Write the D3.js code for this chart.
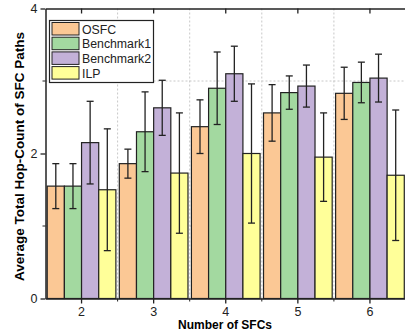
<!DOCTYPE html>
<html>
<head>
<meta charset="utf-8">
<script src="https://cdn.jsdelivr.net/npm/d3@7"></script>
<style>
  body { margin: 0; background: #fff; }
  text { font-family: Arial, "Liberation Sans", sans-serif; }
</style>
</head>
<body>
<div id="chart"></div>
<script>
const categories = ["2", "3", "4", "5", "6"];
const seriesNames = ["OSFC", "Benchmark1", "Benchmark2", "ILP"];
const seriesColors = ["#fbc895", "#a3d9a0", "#c3b1d8", "#ffff99"];

const osfc = [1.55, 1.86, 2.37, 2.56, 2.83];
const osfcErr = [0.31, 0.20, 0.37, 0.39, 0.36];
const bench1 = [1.55, 2.30, 2.90, 2.84, 2.98];
const bench1Err = [0.31, 0.55, 0.50, 0.23, 0.28];
const bench2 = [2.15, 2.63, 3.10, 2.93, 3.04];
const bench2Err = [0.57, 0.38, 0.38, 0.29, 0.33];
const ilp = [1.50, 1.73, 2.00, 1.95, 1.70];
const ilpErr = [0.84, 0.83, 0.96, 0.61, 0.90];

const yTicks = [0, 2, 4];
const yMinor = [1, 3];

const values = [osfc, bench1, bench2, ilp];
const errors = [osfcErr, bench1Err, bench2Err, ilpErr];

const W = 405, H = 335;
const mLeft = 45.5, mRight = 406, mTop = 8.5, mBottom = 298.5;

const svg = d3.select("#chart").append("svg")
  .attr("width", W).attr("height", H);

const x = d3.scaleBand().domain(categories).range([mLeft, mRight]).padding(0);
const inner = d3.scaleBand().domain(seriesNames)
  .range([0, x.bandwidth()]).paddingOuter(0.1);
const y = d3.scaleLinear().domain([0, 4]).range([mBottom, mTop]);

// dotted grid at minor positions
const minorX = categories.slice(1).map(c => x(c));
svg.append("g").selectAll("line").data(minorX).join("line")
  .attr("x1", d => d).attr("x2", d => d)
  .attr("y1", mTop).attr("y2", mBottom)
  .attr("stroke", "#c8c8c8").attr("stroke-dasharray", "2,2");
svg.append("g").selectAll("line").data(yMinor).join("line")
  .attr("x1", mLeft).attr("x2", mRight)
  .attr("y1", d => y(d)).attr("y2", d => y(d))
  .attr("stroke", "#c8c8c8").attr("stroke-dasharray", "2,2");

// bars
const rows = [];
seriesNames.forEach((s, si) => {
  categories.forEach((c, ci) => {
    rows.push({ s, si, c, v: values[si][ci], e: errors[si][ci] });
  });
});

svg.append("g").selectAll("rect").data(rows).join("rect")
  .attr("x", d => x(d.c) + inner(d.s))
  .attr("y", d => y(d.v))
  .attr("width", inner.bandwidth())
  .attr("height", d => y(0) - y(d.v))
  .attr("fill", d => seriesColors[d.si])
  .attr("stroke", "#222")
  .attr("stroke-width", 1.2);

// error bars
const eg = svg.append("g").attr("stroke", "#222").attr("stroke-width", 1.3);
rows.forEach(d => {
  const cx = x(d.c) + inner(d.s) + inner.bandwidth() / 2;
  eg.append("line").attr("x1", cx).attr("x2", cx)
    .attr("y1", y(d.v + d.e)).attr("y2", y(d.v - d.e));
  [d.v + d.e, d.v - d.e].forEach(v => {
    eg.append("line").attr("x1", cx - 3.5).attr("x2", cx + 3.5)
      .attr("y1", y(v)).attr("y2", y(v));
  });
});

// axes
const xAxis = svg.append("g").attr("transform", `translate(0,${mBottom})`)
  .call(d3.axisBottom(x).tickSizeInner(5).tickSizeOuter(0).tickPadding(4));
xAxis.select(".domain").attr("stroke", "#222").attr("stroke-width", 1.5);
xAxis.selectAll("text").attr("font-size", 12.5).attr("fill", "#222");
xAxis.selectAll(".tick line").attr("stroke", "#222").attr("stroke-width", 1.3);
svg.append("g").selectAll("line").data(minorX).join("line")
  .attr("x1", d => d).attr("x2", d => d)
  .attr("y1", mBottom).attr("y2", mBottom + 3)
  .attr("stroke", "#222");

const xTop = svg.append("g").attr("transform", `translate(0,${mTop})`)
  .call(d3.axisTop(x).tickSizeInner(-5).tickSizeOuter(0).tickFormat(""));
xTop.select(".domain").attr("stroke", "#222").attr("stroke-width", 1.5);
xTop.selectAll(".tick line").attr("stroke", "#222").attr("stroke-width", 1.3);

const yAxis = svg.append("g").attr("transform", `translate(${mLeft},0)`)
  .call(d3.axisLeft(y).tickValues(yTicks).tickFormat(d3.format("d"))
    .tickSizeInner(5).tickSizeOuter(0).tickPadding(3));
yAxis.select(".domain").attr("stroke", "#222").attr("stroke-width", 1.5);
yAxis.selectAll("text").attr("font-size", 12.5).attr("fill", "#222");
yAxis.selectAll(".tick line").attr("stroke", "#222").attr("stroke-width", 1.3);
svg.append("g").selectAll("line").data(yMinor).join("line")
  .attr("x1", mLeft - 3).attr("x2", mLeft)
  .attr("y1", d => y(d)).attr("y2", d => y(d))
  .attr("stroke", "#222");

// axis titles
svg.append("text")
  .attr("x", 225).attr("y", 329)
  .attr("text-anchor", "middle")
  .attr("font-size", 12).attr("font-weight", "bold")
  .text("Number of SFCs");
svg.append("text")
  .attr("transform", "translate(24,156.5) rotate(-90)")
  .attr("text-anchor", "middle")
  .attr("font-size", 13.5).attr("font-weight", "bold")
  .text("Average Total Hop-Count of SFC Paths");

// legend
const lg = svg.append("g").attr("transform", "translate(49.5,20.5)");
lg.append("rect").attr("width", 104).attr("height", 62)
  .attr("fill", "#fff").attr("stroke", "#222").attr("stroke-width", 1.2);
seriesNames.forEach((s, i) => {
  lg.append("rect").attr("x", 2.5).attr("y", 2 + i * 14.7)
    .attr("width", 27).attr("height", 12.5)
    .attr("fill", seriesColors[i]).attr("stroke", "#222").attr("stroke-width", 1);
  lg.append("text").attr("x", 32.5).attr("y", 13 + i * 14.7)
    .attr("font-size", 12.3).attr("fill", "#222").text(s);
});
</script>
</body>
</html>
